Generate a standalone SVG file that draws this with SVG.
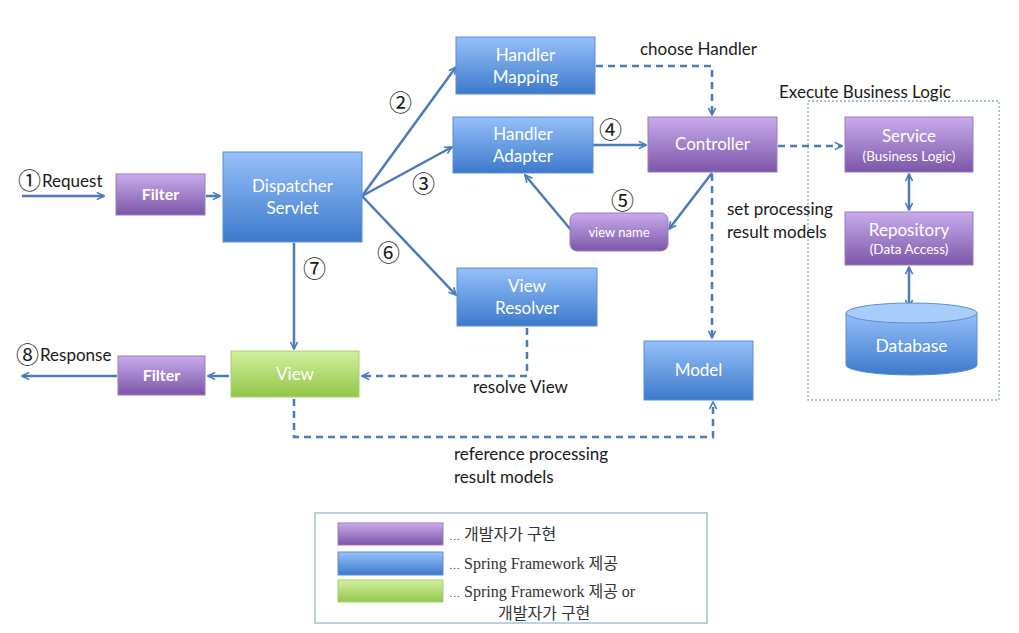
<svg xmlns="http://www.w3.org/2000/svg" width="1019" height="633" viewBox="0 0 1019 633">
<defs>
<linearGradient id="gP" x1="0" y1="0" x2="0" y2="1"><stop offset="0" stop-color="#c9acec"/><stop offset="1" stop-color="#7c56a8"/></linearGradient>
<linearGradient id="gB" x1="0" y1="0" x2="0" y2="1"><stop offset="0" stop-color="#96c0fa"/><stop offset="1" stop-color="#3d7acb"/></linearGradient>
<linearGradient id="gG" x1="0" y1="0" x2="0" y2="1"><stop offset="0" stop-color="#d2ef9e"/><stop offset="1" stop-color="#93c74a"/></linearGradient>
<marker id="ar" viewBox="0 0 10 10" refX="9" refY="5" markerWidth="9" markerHeight="9" markerUnits="userSpaceOnUse" orient="auto"><path d="M1,1 L9,5 L1,9" fill="none" stroke="#4a7bbb" stroke-width="1.8"/></marker>
<marker id="ar2" viewBox="0 0 10 10" refX="9" refY="5" markerWidth="9" markerHeight="9" markerUnits="userSpaceOnUse" orient="auto-start-reverse"><path d="M1,1 L9,5 L1,9" fill="none" stroke="#4a7bbb" stroke-width="1.8"/></marker>
</defs>
<style>
.p{fill:url(#gP);stroke:#9a7cc0;stroke-width:1}
.b{fill:url(#gB);stroke:#5b8fd0;stroke-width:1}
.g{fill:url(#gG);stroke:#a8d070;stroke-width:1}
.nt{font-family:Lato,"Open Sans",sans-serif;font-size:17px;fill:#ffffff;text-anchor:middle}
.sm{font-size:13.5px}
.bt{font-weight:bold;font-size:16px}
.lb{font-family:Lato,"Open Sans",sans-serif;font-size:17px;fill:#1a1a1a}
.cn{font-family:"Noto Sans CJK KR","Noto Sans CJK JP",sans-serif;font-size:23px;fill:#1a1a1a}
.ln{fill:none;stroke:#4a7bbb;stroke-width:2.5}
.ds{fill:none;stroke:#4a7bbb;stroke-width:2.5;stroke-dasharray:7 5}
.lg{font-family:"Liberation Serif","Noto Sans CJK KR",serif;font-size:16px;fill:#333}
</style>
<rect width="1019" height="633" fill="#ffffff"/>

<g id="connectors">
<line class="ln" x1="22" y1="196" x2="104" y2="196" marker-end="url(#ar)"/>
<line class="ln" x1="206" y1="196" x2="220" y2="196" marker-end="url(#ar)"/>
<line class="ln" x1="362" y1="196" x2="456" y2="67" marker-end="url(#ar)"/>
<line class="ln" x1="362" y1="196" x2="452" y2="147" marker-end="url(#ar)"/>
<line class="ln" x1="362" y1="196" x2="456" y2="295" marker-end="url(#ar)"/>
<polyline class="ds" points="596,66 712,66 712,115" marker-end="url(#ar)"/>
<line class="ln" x1="593" y1="145" x2="646" y2="145" marker-end="url(#ar)"/>
<line class="ln" x1="712" y1="173" x2="669" y2="229" marker-end="url(#ar)"/>
<line class="ln" x1="571" y1="230" x2="525" y2="175" marker-end="url(#ar)"/>
<line class="ds" x1="778" y1="146" x2="842" y2="146" marker-end="url(#ar)"/>
<line class="ds" x1="712" y1="174" x2="712" y2="338" marker-end="url(#ar)"/>
<line class="ln" x1="909" y1="174" x2="909" y2="210" marker-start="url(#ar2)" marker-end="url(#ar2)"/>
<line class="ln" x1="909" y1="267" x2="909" y2="307" marker-start="url(#ar2)" marker-end="url(#ar2)"/>
<line class="ln" x1="294" y1="243" x2="294" y2="349" marker-end="url(#ar)"/>
<polyline class="ds" points="527,328 527,376 362,376" marker-end="url(#ar)"/>
<line class="ln" x1="229" y1="376" x2="208" y2="376" marker-end="url(#ar)"/>
<line class="ln" x1="117" y1="376" x2="22" y2="376" marker-end="url(#ar)"/>
<polyline class="ds" points="294,399 294,437 713,437 713,402" marker-end="url(#ar)"/>
</g>

<rect x="808" y="101" width="191" height="299" fill="none" stroke="#8aaed0" stroke-width="1.3" stroke-dasharray="2 2"/>

<g id="filter-in"><rect class="p" x="116" y="174" width="89" height="41"/><text class="nt bt" x="160.5" y="200">Filter</text></g>
<g id="dispatcher"><rect class="b" x="223" y="152" width="139" height="90"/><text class="nt" x="292.5" y="192">Dispatcher</text><text class="nt" x="292.5" y="214">Servlet</text></g>
<g id="handler-mapping"><rect class="b" x="456" y="37" width="139" height="57"/><text class="nt" x="525.5" y="61">Handler</text><text class="nt" x="525.5" y="83">Mapping</text></g>
<g id="handler-adapter"><rect class="b" x="453" y="117" width="140" height="56"/><text class="nt" x="523" y="140">Handler</text><text class="nt" x="523" y="162">Adapter</text></g>
<g id="controller"><rect class="p" x="648" y="117" width="129" height="55"/><text class="nt" x="712.5" y="150">Controller</text></g>
<g id="view-name"><rect class="p" x="570" y="213" width="98" height="38" rx="7"/><text class="nt sm" x="619" y="237" style="font-size:13px">view name</text></g>
<g id="view-resolver"><rect class="b" x="457" y="268" width="140" height="58"/><text class="nt" x="527" y="292">View</text><text class="nt" x="527" y="314">Resolver</text></g>
<g id="view"><rect class="g" x="231" y="351" width="128" height="46"/><text class="nt" x="295" y="380">View</text></g>
<g id="filter-out"><rect class="p" x="118" y="356" width="87" height="39"/><text class="nt bt" x="161.5" y="381">Filter</text></g>
<g id="model"><rect class="b" x="644" y="341" width="109" height="59"/><text class="nt" x="698.5" y="376">Model</text></g>
<g id="service"><rect class="p" x="845" y="117" width="128" height="55"/><text class="nt" x="909" y="142">Service</text><text class="nt sm" x="909" y="161">(Business Logic)</text></g>
<g id="repository"><rect class="p" x="845" y="212" width="128" height="53"/><text class="nt" x="909" y="236">Repository</text><text class="nt sm" x="909" y="254">(Data Access)</text></g>
<g id="database"><path d="M846,313 L846,365 A65.5,10 0 0 0 977,365 L977,313" fill="url(#gB)" stroke="#5b8fd0"/><ellipse cx="911.5" cy="313" rx="65.5" ry="10" fill="#a9cdfa" stroke="#5b8fd0"/><text class="nt" x="911.5" y="352" style="font-size:17.5px">Database</text></g>

<g id="labels">
<text class="cn" x="18" y="189">①</text><text class="lb" x="42" y="187">Request</text>
<text class="cn" x="16" y="363">⑧</text><text class="lb" x="40" y="361">Response</text>
<text class="cn" x="389" y="111">②</text>
<text class="cn" x="412" y="192">③</text>
<text class="cn" x="377" y="261">⑥</text>
<text class="cn" x="303" y="277">⑦</text>
<text class="cn" x="599" y="138">④</text>
<text class="cn" x="611" y="209">⑤</text>
<text class="lb" x="640" y="55">choose Handler</text>
<text class="lb" x="779" y="98">Execute Business Logic</text>
<text class="lb" x="727" y="215">set processing</text>
<text class="lb" x="727" y="238">result models</text>
<text class="lb" x="473" y="393">resolve View</text>
<text class="lb" x="454" y="460">reference processing</text>
<text class="lb" x="454" y="483">result models</text>
</g>

<g id="legend">
<rect x="315" y="513" width="392" height="110" fill="#ffffff" stroke="#a9c0d8" stroke-width="1.5"/>
<rect class="p" x="338" y="523" width="105" height="22"/>
<rect class="b" x="338" y="552" width="105" height="23"/>
<rect class="g" x="338" y="580" width="105" height="22"/>
<text class="lg" x="449" y="540"><tspan style="font-size:11px">…</tspan> 개발자가 구현</text>
<text class="lg" x="449" y="569"><tspan style="font-size:11px">…</tspan> Spring Framework 제공</text>
<text class="lg" x="449" y="597"><tspan style="font-size:11px">…</tspan> Spring Framework 제공 or</text>
<text class="lg" x="498" y="619">개발자가 구현</text>
</g>
</svg>
